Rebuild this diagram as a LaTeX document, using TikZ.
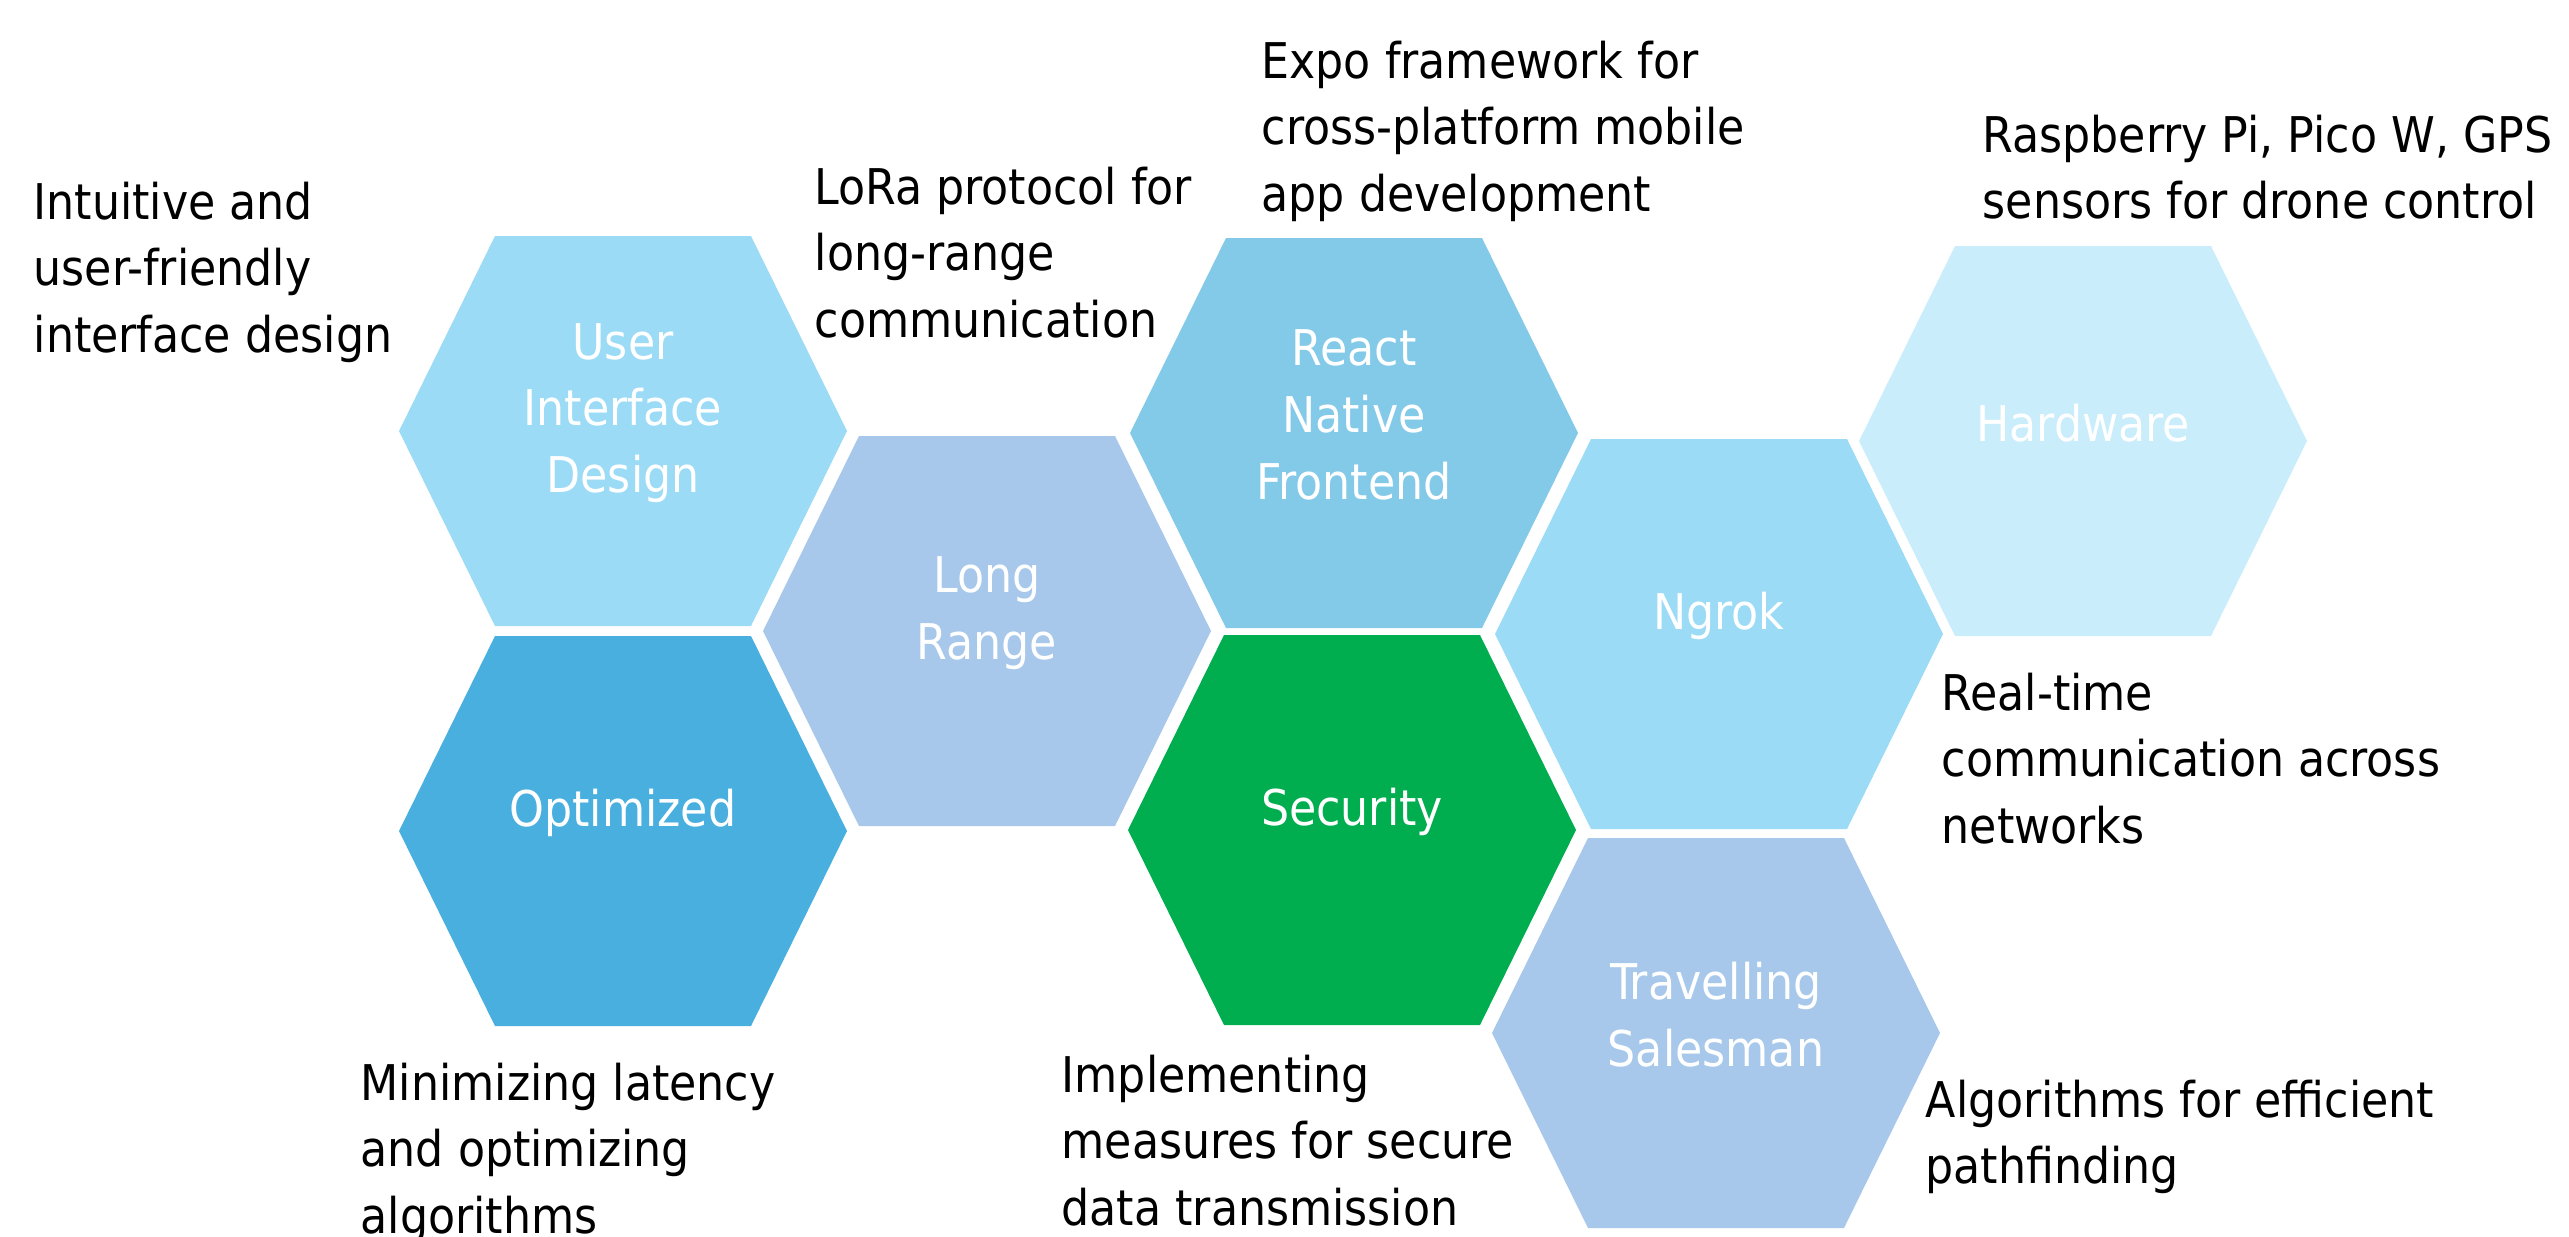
\documentclass[tikz,border=0pt]{standalone}
\usepackage{fontspec}
\setmainfont{DejaVu Sans Condensed}
\usepackage{tikz}
\definecolor{uiblue}{HTML}{9BDBF6}
\definecolor{optblue}{HTML}{48AFDF}
\definecolor{lorablue}{HTML}{A7C8EA}
\definecolor{reactblue}{HTML}{83C9E8}
\definecolor{secgreen}{HTML}{00AD4F}
\definecolor{hwblue}{HTML}{CAEDFB}
\tikzstyle{hex label}=[text=white,align=center,inner sep=0pt,font=\fontsize{14}{19}\selectfont]
\tikzstyle{note}=[text=black,align=left,anchor=north west,inner sep=0pt,font=\fontsize{14}{19}\selectfont]
\newcommand{\hexcell}{++(-224,0) -- ++(96,-195) -- ++(256,0) -- ++(96,195) -- ++(-96,195) -- ++(-256,0) -- cycle}

\begin{document}
\begin{tikzpicture}[x=0.01cm,y=-0.01cm]
        \useasboundingbox (0,0) rectangle (2569,1236);
        % cells
        \fill[uiblue] (623,431) \hexcell;
        \fill[optblue] (623,831) \hexcell;
        \fill[lorablue] (987,631) \hexcell;
        \fill[reactblue] (1354,433) \hexcell;
        \fill[secgreen] (1352,830) \hexcell;
        \fill[uiblue] (1719,634) \hexcell;
        \fill[hwblue] (2083,441) \hexcell;
        \fill[lorablue] (1716,1033) \hexcell;
        % labels
        \node[hex label] (ui) at (623,413) {User\\Interface\\Design};
        \node[hex label] (opt) at (623,813) {Optimized};
        \node[hex label] (lora) at (987,613) {Long\\Range};
        \node[hex label] (react) at (1354,415) {React\\Native\\Frontend};
        \node[hex label] (sec) at (1352,812) {Security};
        \node[hex label] (ngrok) at (1719,616) {Ngrok};
        \node[hex label] (hw) at (2083,423) {Hardware};
        \node[hex label] (tsp) at (1716,1015) {Travelling\\Salesman};
        % notes
        \node[note] (ui note) at (33,181) {Intuitive and\\user-friendly\\interface design};
        \node[note] (lora note) at (814,166) {LoRa protocol for\\long-range\\communication};
        \node[note] (react note) at (1261,40) {Expo framework for\\cross-platform mobile\\app development};
        \node[note] (hw note) at (1982,114) {Raspberry Pi, Pico W, GPS\\sensors for drone control};
        \node[note] (ngrok note) at (1941,672) {Real-time\\communication across\\networks};
        \node[note] (tsp note) at (1925,1079) {Algorithms for efficient\\pathfinding};
        \node[note] (sec note) at (1061,1054) {Implementing\\measures for secure\\data transmission};
        \node[note] (opt note) at (360,1062) {Minimizing latency\\and optimizing\\algorithms};
      \end{tikzpicture}
\end{document}
